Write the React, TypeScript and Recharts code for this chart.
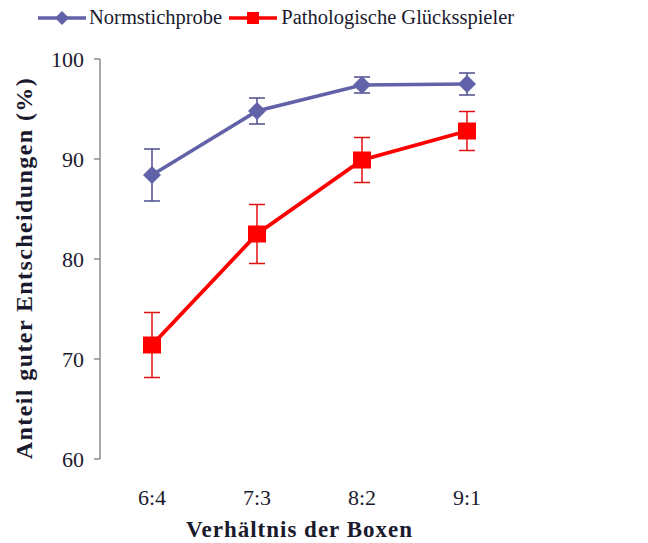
import React from 'react';
import { LineChart, Line, XAxis, YAxis, ErrorBar } from 'recharts';

const categories = ['6:4', '7:3', '8:2', '9:1'];
const normValues = [88.4, 94.8, 97.4, 97.5];
const normErrors = [2.6, 1.3, 0.8, 1.1];
const pathoValues = [71.4, 82.5, 89.9, 92.8];
const pathoErrors = [3.25, 2.95, 2.25, 1.95];
const yTicks = [60, 70, 80, 90, 100];
const boundaryTicks = [0, 1, 2, 3, 4];
const seriesNames = ['Normstichprobe', 'Pathologische Glücksspieler'];

const NORM = '#6262a8';
const NORM_ERR = '#4e4e8e';
const RED = '#ff0000';
const RED_ERR = '#e01010';
const AXIS = '#8c8c8c';
const TEXT = '#1a1a2e';
const FONT = '"Liberation Serif", "Times New Roman", serif';

const data = categories.map((cat, i) => ({
  cat,
  norm: normValues[i],
  normErr: normErrors[i],
  patho: pathoValues[i],
  pathoErr: pathoErrors[i],
}));

const Diamond = (props: any) => {
  const { cx, cy, index } = props;
  const r = 9;
  return (
    <polygon
      key={`d-${index}`}
      points={`${cx},${cy - r} ${cx + r},${cy} ${cx},${cy + r} ${cx - r},${cy}`}
      fill={NORM}
    />
  );
};

const Square = (props: any) => {
  const { cx, cy, index } = props;
  return <rect key={`s-${index}`} x={cx - 9} y={cy - 8.5} width={18} height={17} fill={RED} />;
};

const XTitle = (props: any) => {
  const vb = props.viewBox || {};
  return (
    <text
      x={vb.x + vb.width / 2 - 10}
      y={vb.y + 78}
      textAnchor="middle"
      fontFamily={FONT}
      fontWeight="bold"
      fontSize={23}
      letterSpacing={1}
      fill={TEXT}
    >
      Verhältnis der Boxen
    </text>
  );
};

const YTitle = (props: any) => {
  const vb = props.viewBox || {};
  const x = vb.x + 32;
  const y = vb.y + vb.height / 2 + 9;
  return (
    <text
      x={x}
      y={y}
      transform={`rotate(-90 ${x} ${y})`}
      textAnchor="middle"
      fontFamily={FONT}
      fontWeight="bold"
      fontSize={24}
      letterSpacing={1.4}
      fill={TEXT}
    >
      Anteil guter Entscheidungen (%)
    </text>
  );
};

const LegendOverlay = () => (
  <div
    style={{
      position: 'absolute',
      left: 38,
      top: 6,
      display: 'flex',
      alignItems: 'center',
      fontFamily: FONT,
      fontSize: 20.5,
      color: TEXT,
      whiteSpace: 'nowrap',
    }}
  >
    <svg width={48} height={22}>
      <line x1={0} y1={11} x2={48} y2={11} stroke={NORM} strokeWidth={3.5} />
      <polygon points="24,4 31,11 24,18 17,11" fill={NORM} />
    </svg>
    <span style={{ marginLeft: 3 }}>{seriesNames[0]}</span>
    <svg width={48} height={22} style={{ marginLeft: 7 }}>
      <line x1={0} y1={11} x2={48} y2={11} stroke={RED} strokeWidth={3.5} />
      <rect x={18} y={5} width={12} height={12} fill={RED} />
    </svg>
    <span style={{ marginLeft: 4 }}>{seriesNames[1]}</span>
  </div>
);

export default function App() {
  return (
    <div style={{ position: 'absolute', left: 0, top: 0, width: 648, height: 543, background: '#fff' }}>
      <LineChart
        width={648}
        height={543}
        data={data}
        margin={{ top: 59, right: 129, bottom: 0, left: 0 }}
      >
        <XAxis
          xAxisId="bounds"
          type="number"
          domain={[0, 4]}
          ticks={boundaryTicks}
          tick={false}
          tickSize={7}
          height={0}
          stroke={AXIS}
          strokeWidth={1.5}
          allowDataOverflow
        />
        <XAxis
          xAxisId="cat"
          dataKey="cat"
          type="category"
          padding={{ left: 52, right: 52 }}
          axisLine={false}
          tickLine={false}
          tickSize={0}
          tickMargin={30}
          height={84}
          tick={{ fontFamily: FONT, fontSize: 22, fill: TEXT }}
          label={XTitle}
        />
        <YAxis
          domain={[60, 100]}
          ticks={yTicks}
          width={100}
          tickSize={6}
          tickMargin={10}
          stroke={AXIS}
          strokeWidth={1.5}
          tick={{ fontFamily: FONT, fontSize: 22, fill: TEXT }}
          label={YTitle}
        />
        <Line
          xAxisId="cat"
          dataKey="norm"
          name={seriesNames[0]}
          stroke={NORM}
          strokeWidth={3.5}
          dot={Diamond}
          activeDot={false}
          isAnimationActive={false}
        >
          <ErrorBar dataKey="normErr" direction="y" width={8} stroke={NORM_ERR} strokeWidth={1.5} />
        </Line>
        <Line
          xAxisId="cat"
          dataKey="patho"
          name={seriesNames[1]}
          stroke={RED}
          strokeWidth={3.8}
          dot={Square}
          activeDot={false}
          isAnimationActive={false}
        >
          <ErrorBar dataKey="pathoErr" direction="y" width={8} stroke={RED_ERR} strokeWidth={1.5} />
        </Line>
      </LineChart>
      <LegendOverlay />
    </div>
  );
}
